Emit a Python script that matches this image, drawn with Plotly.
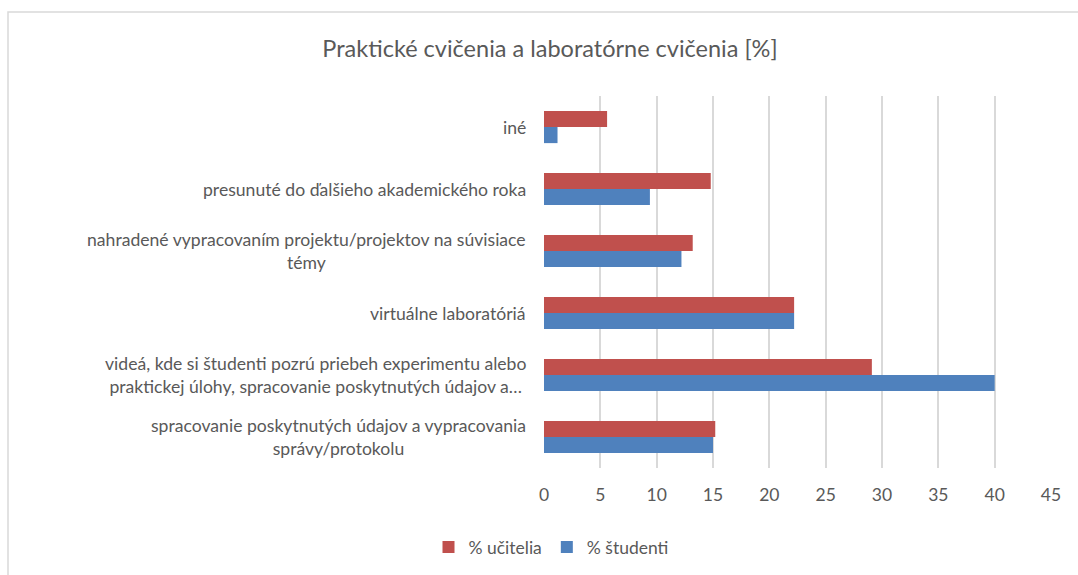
import plotly.graph_objects as go

categories = [
    "spracovanie poskytnutých údajov a vypracovania<br>správy/protokolu",
    "videá, kde si študenti pozrú priebeh experimentu alebo<br>praktickej úlohy, spracovanie poskytnutých údajov a…",
    "virtuálne laboratóriá",
    "nahradené vypracovaním projektu/projektov na súvisiace<br>témy",
    "presunuté do ďalšieho akademického roka",
    "iné",
]
ucitelia = [15.2, 29.1, 22.2, 13.2, 14.8, 5.6]
studenti = [15.0, 40.0, 22.2, 12.2, 9.4, 1.2]
x_ticks = [0, 5, 10, 15, 20, 25, 30, 35, 40, 45]

FONT = "Lato"
GRAY = "#595959"

L, R, T, B = 544, 27, 96, 107
W, H = 1078, 575
pw, ph = W - L - R, H - T - B

fig = go.Figure()
fig.add_trace(go.Bar(y=categories, x=studenti, orientation="h", name="% študenti",
                     marker=dict(color="#4F81BD", line=dict(width=0))))
fig.add_trace(go.Bar(y=categories, x=ucitelia, orientation="h", name="% učitelia",
                     marker=dict(color="#C0504D", line=dict(width=0))))

for c in categories:
    fig.add_annotation(x=0, xref="paper", y=c, yref="y", text=c, showarrow=False,
                       xanchor="right", yanchor="middle", align="center", xshift=-16,
                       font=dict(family=FONT, size=17.6, color=GRAY))

# outer chart border
fig.add_shape(type="rect", xref="paper", yref="paper",
              x0=(8 - L) / pw, x1=2, y0=-1, y1=(H - B - 12) / ph,
              line=dict(color="#D9D9D9", width=1.5), fillcolor="rgba(0,0,0,0)", layer="below")

fig.update_layout(
    width=W, height=H,
    margin=dict(l=L, r=R, t=T, b=B),
    paper_bgcolor="white", plot_bgcolor="white",
    barmode="group", bargap=0.48, bargroupgap=0,
    title=dict(text="Praktické cvičenia a laboratórne cvičenia [%]", x=550 / W, xanchor="center",
               y=1 - 49 / H, yanchor="middle", font=dict(family=FONT, size=23.5, color=GRAY)),
    xaxis=dict(range=[0, 45], tickvals=x_ticks, showgrid=True, gridcolor="#D9D9D9", gridwidth=1.5,
               zeroline=False, showline=False, ticks="", ticklabelstandoff=14,
               tickfont=dict(family=FONT, size=17.5, color=GRAY), fixedrange=True),
    yaxis=dict(showticklabels=False, showgrid=False, zeroline=False, showline=False, ticks="",
               fixedrange=True),
    legend=dict(orientation="h", x=551 / W, xref="container", xanchor="center", y=1 - 547 / H,
                yref="container", yanchor="middle", traceorder="reversed", itemwidth=30,
                font=dict(family=FONT, size=17.5, color=GRAY)),
    showlegend=True,
)

fig.write_html("out.html", config={"displayModeBar": False},
               post_script="document.body.style.margin='0';")
